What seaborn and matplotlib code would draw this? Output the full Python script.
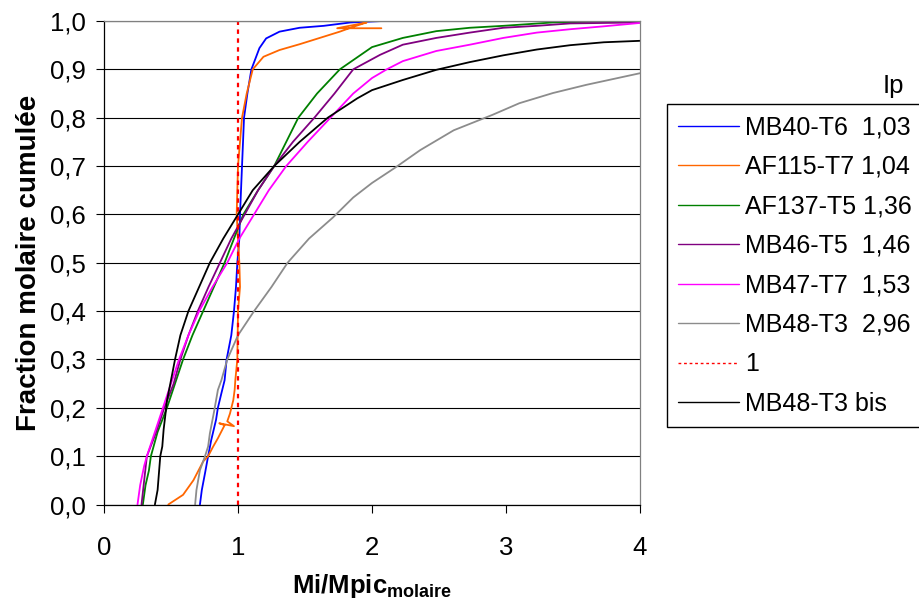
import numpy as np
import pandas as pd
import matplotlib
matplotlib.use("Agg")
import matplotlib.pyplot as plt
import seaborn as sns


###### Data (x = Mi/Mpic, y = cumulated molar fraction)
mb40_x = [0.716, 0.73, 0.754, 0.777, 0.80, 0.836, 0.85, 0.876, 0.90, 0.915, 0.95, 0.97, 0.985,
          0.995, 1.01, 1.015, 1.03, 1.045, 1.07, 1.10, 1.16, 1.21, 1.31, 1.46, 1.64, 1.84, 2.08, 2.4, 4.0]
mb40_y = [0.0, 0.03, 0.065, 0.10, 0.133, 0.175, 0.20, 0.23, 0.257, 0.30, 0.35, 0.40, 0.45,
          0.50, 0.55, 0.60, 0.70, 0.80, 0.85, 0.90, 0.944, 0.964, 0.978, 0.986, 0.99, 0.997, 1.0, 1.0, 1.0]

af115_x = [0.48, 0.59, 0.667, 0.74, 0.777, 0.815, 0.85, 0.90, 0.86, 0.97, 0.92, 0.94, 0.965,
           0.975, 0.98, 0.995, 1.0, 1.015, 1.01, 0.99, 1.0, 1.03, 1.065, 1.11, 1.19, 1.31, 1.46,
           1.61, 1.76, 1.86, 1.96, 1.74, 2.07]
af115_y = [0.0, 0.02, 0.05, 0.089, 0.10, 0.12, 0.137, 0.164, 0.168, 0.162, 0.172, 0.188, 0.216,
           0.237, 0.257, 0.30, 0.40, 0.45, 0.50, 0.60, 0.70, 0.80, 0.85, 0.90, 0.926, 0.94, 0.952,
           0.965, 0.978, 0.988, 0.997, 0.985, 0.985]

af137_x = [0.29, 0.31, 0.335, 0.35, 0.40, 0.47, 0.53, 0.59, 0.66, 0.74, 0.82, 0.90, 0.97, 1.04,
           1.15, 1.27, 1.36, 1.45, 1.59, 1.76, 2.0, 2.23, 2.48, 2.73, 2.98, 3.35, 4.0]
af137_y = [0.0, 0.04, 0.07, 0.10, 0.15, 0.20, 0.25, 0.30, 0.35, 0.40, 0.45, 0.50, 0.55, 0.60,
           0.65, 0.70, 0.75, 0.80, 0.85, 0.90, 0.946, 0.965, 0.979, 0.986, 0.99, 0.997, 1.0]

mb46_x = [0.28, 0.30, 0.32, 0.39, 0.45, 0.52, 0.57, 0.63, 0.70, 0.78, 0.865, 0.95, 1.05, 1.15,
          1.27, 1.41, 1.57, 1.72, 1.86, 2.06, 2.23, 2.48, 2.73, 2.98, 3.23, 3.48, 4.0]
mb46_y = [0.0, 0.05, 0.10, 0.15, 0.20, 0.25, 0.30, 0.35, 0.40, 0.45, 0.50, 0.55, 0.60, 0.65,
          0.70, 0.75, 0.80, 0.85, 0.90, 0.93, 0.951, 0.965, 0.976, 0.986, 0.99, 0.995, 0.997]

mb47_x = [0.25, 0.27, 0.30, 0.32, 0.38, 0.44, 0.50, 0.56, 0.63, 0.71, 0.81, 0.92, 1.01, 1.12,
          1.23, 1.36, 1.52, 1.69, 1.86, 2.0, 2.11, 2.23, 2.48, 2.73, 2.98, 3.23, 3.48, 3.73, 4.0]
mb47_y = [0.0, 0.04, 0.08, 0.10, 0.15, 0.20, 0.25, 0.30, 0.35, 0.40, 0.45, 0.50, 0.55, 0.60,
          0.65, 0.70, 0.75, 0.80, 0.85, 0.882, 0.90, 0.917, 0.938, 0.951, 0.965, 0.976, 0.983, 0.989, 0.996]

mb48_x = [0.68, 0.69, 0.716, 0.754, 0.777, 0.79, 0.82, 0.85, 0.876, 0.92, 1.0, 1.12, 1.25, 1.37,
          1.53, 1.71, 1.86, 2.0, 2.18, 2.36, 2.61, 2.90, 3.10, 3.35, 3.60, 4.0]
mb48_y = [0.0, 0.03, 0.071, 0.10, 0.12, 0.147, 0.19, 0.237, 0.257, 0.30, 0.35, 0.40, 0.45, 0.50,
          0.55, 0.594, 0.635, 0.665, 0.698, 0.733, 0.774, 0.806, 0.83, 0.851, 0.868, 0.892]

ref_x = [1.0, 1.0]
ref_y = [0.0, 1.0]

mb48bis_x = [0.38, 0.40, 0.41, 0.42, 0.435, 0.445, 0.46, 0.47, 0.50, 0.53, 0.57, 0.63, 0.71, 0.79,
             0.89, 1.0, 1.11, 1.27, 1.46, 1.67, 1.89, 2.0, 2.23, 2.48, 2.73, 2.98, 3.23, 3.48, 3.73, 4.0]
mb48bis_y = [0.0, 0.03, 0.065, 0.10, 0.12, 0.155, 0.19, 0.215, 0.257, 0.30, 0.35, 0.40, 0.45, 0.50,
             0.55, 0.60, 0.65, 0.70, 0.75, 0.80, 0.84, 0.857, 0.878, 0.899, 0.915, 0.929, 0.941, 0.95, 0.956, 0.959]

labels = ["MB40-T6  1,03", "AF115-T7 1,04", "AF137-T5 1,36", "MB46-T5  1,46",
          "MB47-T7  1,53", "MB48-T3  2,96", "1", "MB48-T3 bis"]
xticks = [0, 1, 2, 3, 4]
yticks = [0.0, 0.1, 0.2, 0.3, 0.4, 0.5, 0.6, 0.7, 0.8, 0.9, 1.0]
ytick_labels = ["0,0", "0,1", "0,2", "0,3", "0,4", "0,5", "0,6", "0,7", "0,8", "0,9", "1,0"]


sns.set_theme(style="white")
plt.rcParams["font.family"] = ["Liberation Sans", "DejaVu Sans"]
plt.rcParams["text.color"] = "black"
plt.rcParams["mathtext.fontset"] = "custom"
plt.rcParams["mathtext.bf"] = "Liberation Sans:bold"
plt.rcParams["mathtext.rm"] = "Liberation Sans"

series = [
    (mb40_x, mb40_y, "#0000FF", "-"),
    (af115_x, af115_y, "#FF6600", "-"),
    (af137_x, af137_y, "#008000", "-"),
    (mb46_x, mb46_y, "#800080", "-"),
    (mb47_x, mb47_y, "#FF00FF", "-"),
    (mb48_x, mb48_y, "#8C8C8C", "-"),
    (ref_x, ref_y, "#FF0000", (0, (2, 2))),
    (mb48bis_x, mb48bis_y, "#000000", "-"),
]

fig = plt.figure(figsize=(9.2, 6.04), dpi=100)
ax = fig.add_axes([104 / 920, 1 - 504.5 / 604, 536 / 920, 483.5 / 604])

for (xs, ys, col, ls), lab in zip(series, labels):
    df = pd.DataFrame({"x": xs, "y": ys})
    sns.lineplot(data=df, x="x", y="y", sort=False, estimator=None, color=col,
                 linestyle=ls, linewidth=1.3 if ls == "-" else 1.6, label=lab, ax=ax)

ax.set_xlim(0, 4)
ax.set_ylim(0, 1)
ax.set_xticks(xticks)
ax.set_xticklabels([str(v) for v in xticks])
ax.set_yticks(yticks)
ax.set_yticklabels(ytick_labels)
ax.yaxis.grid(True, color="black", linewidth=0.8)
ax.xaxis.grid(False)
ax.tick_params(axis="both", direction="out", length=6, width=0.8, color="black",
               labelsize=18.5, labelcolor="black", bottom=True, left=True)
ax.tick_params(axis="x", pad=17)
ax.tick_params(axis="y", pad=7)
for side in ["left", "bottom"]:
    ax.spines[side].set_color("black")
    ax.spines[side].set_linewidth(0.9)
for side in ["top", "right"]:
    ax.spines[side].set_color("#808080")
    ax.spines[side].set_linewidth(0.9)

ax.set_xlabel(r"$\mathbf{Mi/Mpic_{molaire}}$", fontsize=18.5, color="black", labelpad=8)
ax.set_ylabel("Fraction molaire cumulée", fontsize=20, fontweight="bold", color="black", labelpad=6)

handles, labs = ax.get_legend_handles_labels()
ax.get_legend().remove()
leg = fig.legend(handles, labs, loc="upper left", bbox_to_anchor=(667 / 920, 1 - 104 / 604),
                 fontsize=18, frameon=True, fancybox=False, shadow=False, framealpha=1,
                 edgecolor="black", handlelength=2.45, handletextpad=0.22, labelspacing=0.62,
                 borderpad=0.45, borderaxespad=0, labelcolor="black")
leg.get_frame().set_linewidth(1.0)
for h in leg.get_lines():
    h.set_linewidth(1.0)

fig.text(893 / 920, 1 - 86 / 604, "Ip", fontsize=18.5, ha="center", va="center", color="black")

fig.savefig("out.png", dpi=100)
